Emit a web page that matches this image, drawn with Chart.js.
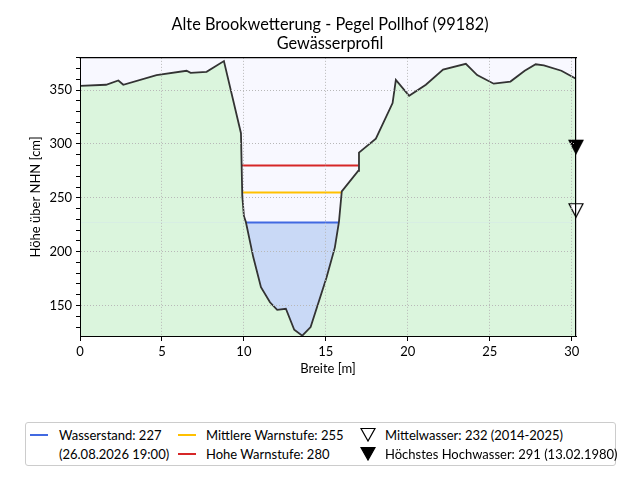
<!DOCTYPE html>
<html>
<head>
<meta charset="utf-8">
<script src="https://cdn.jsdelivr.net/npm/chart.js@4.4.1/dist/chart.umd.min.js"></script>
<style>
    body { margin: 0; background: #fff; }
    #wrap { position: relative; width: 640px; height: 480px; font-family: Lato, sans-serif; }
    #legend { position: absolute; left: 25px; top: 422px; width: 591px; height: 44px; box-sizing: border-box;
              border: 1px solid #cccccc; border-radius: 3px; background: #fff; font-size: 13px; color: #000; }
    #legend span { position: absolute; white-space: nowrap; line-height: 16px; }
    #legend i { position: absolute; height: 2px; width: 18px; }
    #legend svg { position: absolute; }
</style>
</head>
<body>
<div id="wrap">
    <canvas id="profil" width="640" height="480"></canvas>
    <div id="legend"></div>
</div>
<script>
// Gewässerprofil (Breite in m, Höhe in cm über NHN)
const profileX = [0, 1.59, 2.34, 2.64, 4.67, 6.5, 6.75, 7.72, 8.78, 9.82, 9.9, 10.0, 10.12, 10.57, 11.04, 11.59, 12.03, 12.56,
    13.07, 13.56, 14.07, 15.04, 15.55, 15.8, 15.97, 16.97, 17.02, 18.05, 19.07, 19.27, 20.08, 21.1, 22.15, 23.54, 24.23,
    25.24, 26.26, 27.13, 27.8, 28.3, 29.37, 30.26];
const profileY = [354, 355, 359, 355, 364, 368, 366, 367, 377, 310, 252, 233, 227.5, 195, 167, 153, 146, 147,
    127.5, 122, 130, 176, 204, 228, 256, 275, 292, 305, 338, 359.6, 344.7, 355, 369, 374.5, 364,
    356, 358, 368, 374, 373, 368, 360.5];

const waterLevel = 227;
const waterTime = '26.08.2026 19:00';
const warnMid = 255;
const warnHigh = 280;
const meanWater = 232;
const meanPeriod = '2014-2025';
const highestWater = 291;
const highestDate = '13.02.1980';

const title = ['Alte Brookwetterung - Pegel Pollhof (99182)', 'Gewässerprofil'];
const yRange = [121.7, 380];

const profile = profileX.map((x, i) => ({x: x, y: profileY[i]}));
const xMax = profileX[profileX.length - 1];

// where a horizontal level meets the channel walls
function crossing(level) {
    const low = profileY.indexOf(Math.min(...profileY));
    let i = low;
    while (i > 0 && profileY[i - 1] < level) i--;
    let j = low;
    while (j < profileY.length - 1 && profileY[j + 1] < level) j++;
    const xl = profileX[i - 1] + (level - profileY[i - 1]) * (profileX[i] - profileX[i - 1]) / (profileY[i] - profileY[i - 1]);
    const xr = profileX[j] + (level - profileY[j]) * (profileX[j + 1] - profileX[j]) / (profileY[j + 1] - profileY[j]);
    return [{x: xl, y: level}, {x: xr, y: level}];
}

function triangle(filled) {
    const c = document.createElement('canvas');
    c.width = 16; c.height = 30;
    const g = c.getContext('2d');
    g.beginPath();
    g.moveTo(1, 1.5); g.lineTo(15, 1.5); g.lineTo(8, 15); g.closePath();
    g.fillStyle = filled ? '#000' : '#fff';
    g.fill();
    g.lineWidth = 1.2;
    g.strokeStyle = '#000';
    g.stroke();
    return c;
}

const blue = '#4169e1';
const yellow = '#ffc000';
const red = '#d62728';
const gridGrey = '#b8b8b8';

Chart.defaults.font.family = 'Lato, sans-serif';
Chart.defaults.font.size = 13;
Chart.defaults.color = '#000';

const line = (data, color, width, order) => ({
    data: data, borderColor: color, borderWidth: width, pointRadius: 0, fill: false, order: order, yAxisID: 'y'
});

new Chart(document.getElementById('profil'), {
    type: 'line',
    data: {
        datasets: [
            {data: profile, borderWidth: 0, pointRadius: 0, fill: 'end', backgroundColor: '#f8f8ff', order: 10, yAxisID: 'y'},
            {data: profile, borderWidth: 0, pointRadius: 0, fill: 'start', backgroundColor: '#dbf5dd', order: 9, yAxisID: 'y'},
            {data: profile, borderWidth: 0, pointRadius: 0, order: 8, yAxisID: 'y',
                fill: {target: {value: waterLevel}, above: 'rgba(0,0,0,0)', below: '#c9d9f6'}},
            line(crossing(warnHigh), red, 2, 4),
            line(crossing(warnMid), yellow, 2, 4),
            line(crossing(waterLevel), blue, 2, 3),
            line(profile, '#333333', 1.8, 2),
            {data: [{x: xMax, y: meanWater}], showLine: false, pointStyle: triangle(false), pointRadius: 8,
                clip: false, order: 1, yAxisID: 'y'},
            {data: [{x: xMax, y: highestWater}], showLine: false, pointStyle: triangle(true), pointRadius: 8,
                clip: false, order: 1, yAxisID: 'y'}
        ]
    },
    options: {
        responsive: false,
        animation: false,
        layout: {padding: {left: 20, right: 0, top: 0, bottom: 99}},
        elements: {line: {tension: 0}},
        plugins: {
            legend: {display: false},
            tooltip: {enabled: false},
            title: {
                display: true,
                text: title,
                font: {size: 16.3, weight: 'normal', lineHeight: 1.13},
                padding: {top: 16, bottom: 5}
            }
        },
        scales: {
            x: {
                type: 'linear',
                min: 0,
                max: xMax,
                afterBuildTicks: s => { s.ticks = []; for (let v = 0; v <= s.max; v += 5) s.ticks.push({value: v}); },
                afterFit: s => { s.height = 45; },
                ticks: {autoSkip: false, maxRotation: 0, padding: 3},
                grid: {color: gridGrey, lineWidth: 1, tickColor: '#000', tickLength: 5, tickWidth: 1, z: 1},
                border: {color: '#000', width: 1, dash: [1, 2], z: 2},
                title: {display: true, text: 'Breite [m]', padding: {top: 0, bottom: 4}}
            },
            y: {
                min: yRange[0],
                max: yRange[1],
                afterBuildTicks: s => { s.ticks = []; for (let v = Math.ceil(s.min / 10) * 10; v <= s.max; v += 10) s.ticks.push({value: v}); },
                afterFit: s => { s.width = 60; },
                ticks: {autoSkip: false, padding: 4, callback: v => (v % 50 === 0 ? v : '')},
                grid: {
                    color: c => (c.tick && c.tick.value % 50 === 0 ? gridGrey : 'rgba(0,0,0,0)'),
                    lineWidth: 1, tickColor: '#000', tickLength: 4, tickWidth: 1, z: 1
                },
                border: {color: '#000', width: 1, dash: [1, 2], z: 2},
                title: {display: true, text: 'Höhe über NHN [cm]', padding: {top: 8, bottom: 0}}
            },
            y2: {
                position: 'right',
                afterFit: s => { s.width = 64; },
                ticks: {display: false},
                grid: {display: false},
                border: {color: '#000', width: 1.2, z: 2}
            },
            x2: {
                type: 'linear',
                position: 'top',
                afterFit: s => { s.height = 0; },
                ticks: {display: false},
                grid: {display: false},
                border: {color: '#000', width: 1.2, z: 2}
            }
        }
    }
});

// legend in three columns like the original
const tri = f => '<svg width="16" height="15" viewBox="0 0 16 15"><path d="M1 1.5 L15 1.5 L8 14 Z" fill="' +
    (f ? '#000' : '#fff') + '" stroke="#000" stroke-width="1.2"/></svg>';
const legendItems = [
    {col: 0, row: 0, mark: '<i style="background:' + blue + '"></i>', text: 'Wasserstand: ' + waterLevel},
    {col: 0, row: 1, mark: '', text: '(' + waterTime + ')'},
    {col: 1, row: 0, mark: '<i style="background:' + yellow + '"></i>', text: 'Mittlere Warnstufe: ' + warnMid},
    {col: 1, row: 1, mark: '<i style="background:' + red + '"></i>', text: 'Hohe Warnstufe: ' + warnHigh},
    {col: 2, row: 0, mark: tri(false), text: 'Mittelwasser: ' + meanWater + ' (' + meanPeriod + ')'},
    {col: 2, row: 1, mark: tri(true), text: 'Höchstes Hochwasser: ' + highestWater + ' (' + highestDate + ')'}
];
const colMark = [4, 152, 334];
const colText = [33, 180, 359];
const rowMid = [12, 31];
let html = '';
legendItems.forEach(it => {
    const y = rowMid[it.row];
    if (it.mark.startsWith('<i')) html += it.mark.replace('<i style="', '<i style="left:' + colMark[it.col] + 'px;top:' + (y - 1) + 'px;');
    else if (it.mark) html += it.mark.replace('<svg ', '<svg style="left:' + colMark[it.col] + 'px;top:' + (y - 8) + 'px" ');
    html += '<span style="left:' + colText[it.col] + 'px;top:' + (y - 8) + 'px">' + it.text + '</span>';
});
document.getElementById('legend').innerHTML = html;
</script>
</body>
</html>
